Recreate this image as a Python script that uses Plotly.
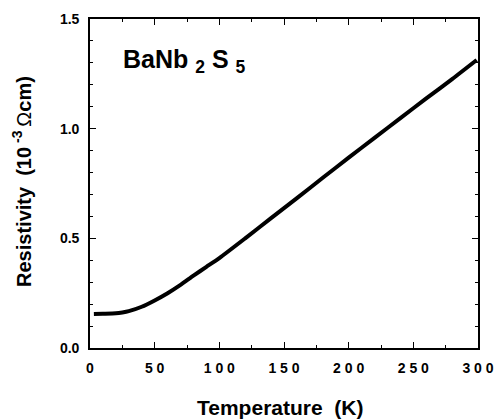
import plotly.graph_objects as go

# Data
temperature_K = [3, 10, 20, 25, 30, 40, 50, 60, 70, 80, 90, 100, 120, 140, 160,
                 180, 200, 220, 240, 260, 280, 299]
resistivity = [0.155, 0.156, 0.158, 0.162, 0.168, 0.188, 0.217, 0.250, 0.288,
               0.330, 0.370, 0.410, 0.500, 0.592, 0.683, 0.776, 0.868, 0.958,
               1.048, 1.138, 1.226, 1.313]

x_tick_vals = [0, 50, 100, 150, 200, 250, 300]
x_tick_text = ["0", "5 0", "1 0 0", "1 5 0", "2 0 0", "2 5 0", "3 0 0"]
y_tick_vals = [0.0, 0.5, 1.0, 1.5]
y_tick_text = ["0.0", "0.5", "1.0", "1.5"]

x_title = "Temperature\u00a0\u00a0(K)"
y_title = ("Resistivity\u00a0\u00a0(10<sup> -3 </sup>"
           "<span style='font-weight:normal'>\u03a9</span>cm)")
label = "BaNb <sub>2</sub> S <sub>5</sub>"

FONT = "Liberation Sans, Arial, Helvetica, sans-serif"

fig = go.Figure()
fig.add_trace(go.Scatter(
    x=temperature_K, y=resistivity, mode="lines",
    line=dict(color="black", width=4, shape="spline", smoothing=0.6),
    showlegend=False, hoverinfo="skip",
))

axis_common = dict(
    showline=True, linecolor="black", linewidth=1.6, mirror="ticks",
    ticks="inside", ticklen=6, tickwidth=1.3, tickcolor="black",
    showgrid=False, zeroline=False, automargin=False,
    tickfont=dict(family=FONT, size=14, color="black", weight="bold"),
)

fig.update_xaxes(
    range=[0, 300], tickmode="array", tickvals=x_tick_vals, ticktext=x_tick_text,
    minor=dict(dtick=25, ticks="inside", ticklen=3, tickwidth=1, tickcolor="black"),
    ticklabelstandoff=6, **axis_common,
)
fig.update_yaxes(
    range=[0, 1.5], tickmode="array", tickvals=y_tick_vals, ticktext=y_tick_text,
    minor=dict(dtick=0.1, ticks="inside", ticklen=3, tickwidth=1, tickcolor="black"),
    ticklabelstandoff=6, **axis_common,
)

fig.add_annotation(
    text=x_title, xref="paper", yref="paper", x=0.49, y=-0.18,
    xanchor="center", yanchor="middle", showarrow=False,
    font=dict(family=FONT, size=21, color="black", weight="bold"),
)
fig.add_annotation(
    text=y_title, xref="paper", yref="paper",
    x=-0.175, y=0.505, textangle=-90, xanchor="center", yanchor="middle",
    showarrow=False,
    font=dict(family=FONT, size=20, color="black", weight="bold"),
)
fig.add_annotation(
    text=label, xref="x", yref="y",
    x=24, y=1.31, xanchor="left", yanchor="middle", showarrow=False,
    font=dict(family=FONT, size=25, color="black", weight="bold"),
)

fig.update_layout(
    width=495, height=419, autosize=False,
    margin=dict(l=90, r=17, t=19, b=71),
    paper_bgcolor="white", plot_bgcolor="white",
)

fig.write_html("out.html")
